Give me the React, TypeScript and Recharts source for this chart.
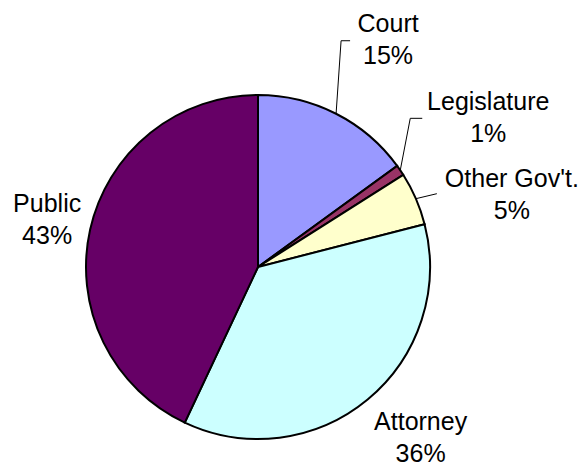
import { PieChart, Pie, Cell } from 'recharts'

const categories = ['Court', 'Legislature', "Other Gov't.", 'Attorney', 'Public']
const shares = [15, 1, 5, 36, 43]
const colors = ['#9999FF', '#993366', '#FFFFCC', '#CCFFFF', '#660066']

const data = categories.map((name, i) => ({ name, value: shares[i] }))

// label placement relative to the slice's outer edge at its mid angle
const labelSpots: Record<string, { dx: number; dy: number; leader?: number[][] }> = {
  Court: { dx: 52, dy: -82, leader: [[5, -73], [14, -73]] },
  Legislature: { dx: 88, dy: -60, leader: [[10, -52], [22, -52]] },
  "Other Gov't.": { dx: 96, dy: -12, leader: [[21, -5]] },
  Attorney: { dx: 53, dy: 30 },
  Public: { dx: -43, dy: -17 }
}

const RAD = Math.PI / 180

function renderLabel(props: any) {
  const { cx, cy, midAngle, outerRadius, name, percent } = props
  const ex = cx + outerRadius * Math.cos(-midAngle * RAD)
  const ey = cy + outerRadius * Math.sin(-midAngle * RAD)
  const spot = labelSpots[name]
  if (!spot) return null
  const pts = [[ex, ey], ...(spot.leader || []).map(([x, y]) => [ex + x, ey + y])]
  return (
    <g>
      {spot.leader && (
        <polyline
          points={pts.map((p) => p.join(',')).join(' ')}
          fill="none"
          stroke="#000"
          strokeWidth={1}
        />
      )}
      <text
        x={ex + spot.dx}
        y={ey + spot.dy}
        textAnchor="middle"
        fill="#000"
        style={{ fontFamily: 'Liberation Sans, Arial, sans-serif', fontSize: 25 }}
      >
        <tspan x={ex + spot.dx}>{name}</tspan>
        <tspan x={ex + spot.dx} dy={32}>{`${Math.round(percent * 100)}%`}</tspan>
      </text>
    </g>
  )
}

export default function App() {
  return (
    <div style={{ position: 'absolute', left: 0, top: 0, background: '#fff' }}>
      <PieChart width={582} height={464}>
        <Pie
          data={data}
          dataKey="value"
          nameKey="name"
          cx={253}
          cy={262}
          outerRadius={172}
          startAngle={90}
          endAngle={-270}
          stroke="#000"
          strokeWidth={2}
          label={renderLabel}
          labelLine={false}
          isAnimationActive={false}
        >
          {data.map((entry, i) => (
            <Cell key={`cell-${i}`} fill={colors[i]} />
          ))}
        </Pie>
      </PieChart>
    </div>
  )
}
